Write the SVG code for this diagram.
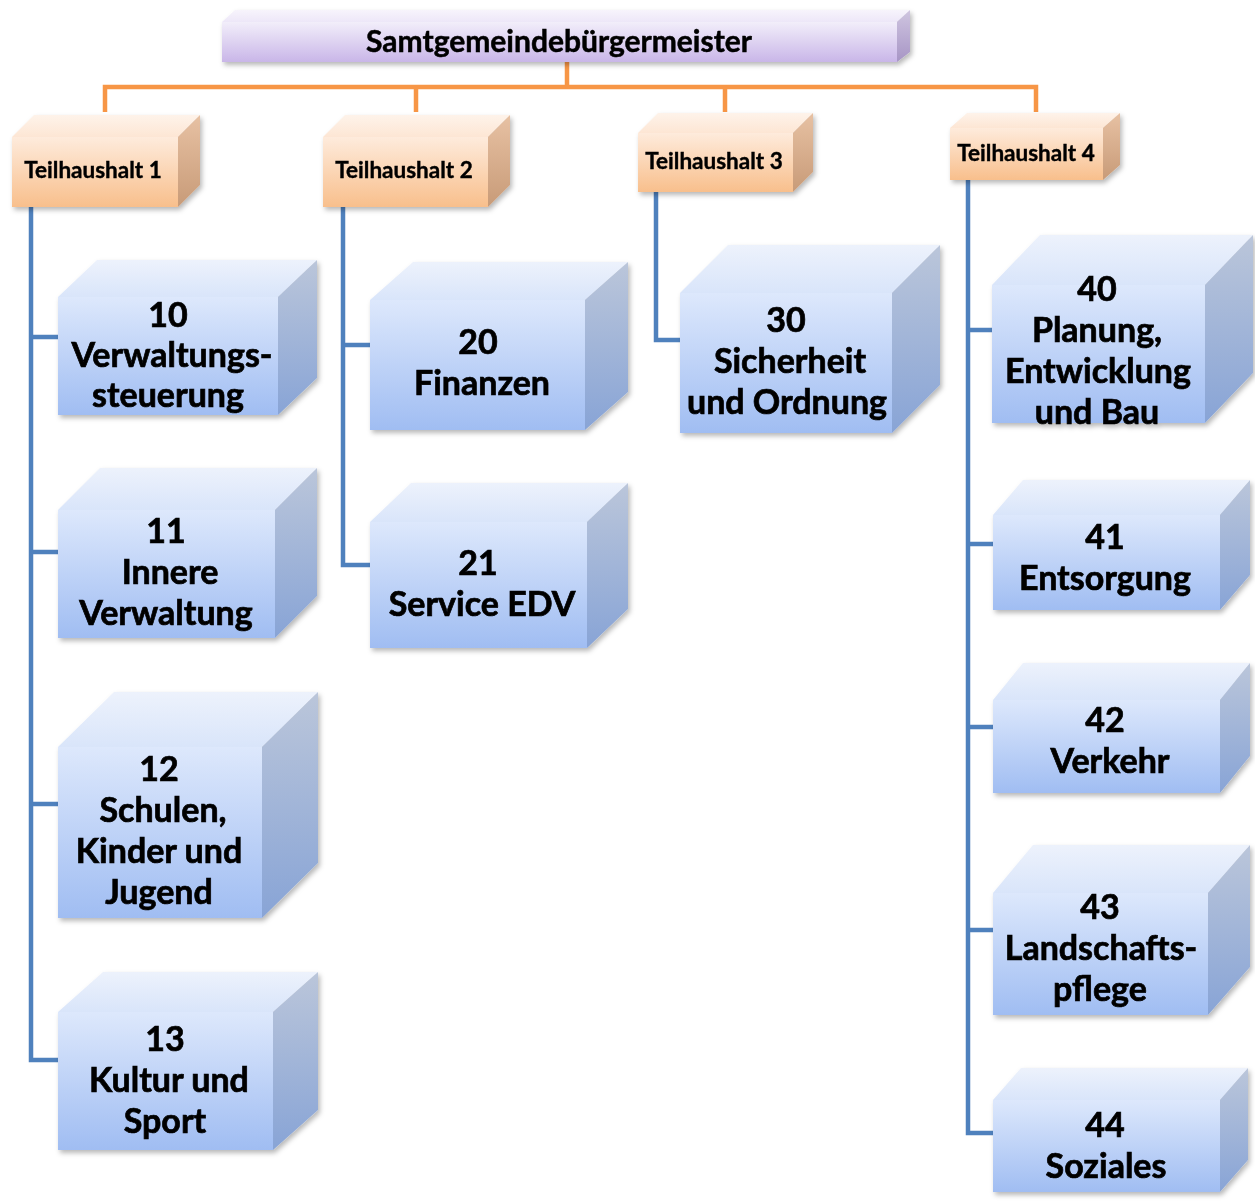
<svg xmlns="http://www.w3.org/2000/svg" width="1255" height="1203" viewBox="0 0 1255 1203">
<defs>
  <linearGradient id="bF" x1="0" y1="0" x2="0" y2="1"><stop offset="0" stop-color="#DDE8FC"/><stop offset="1" stop-color="#A0BDF2"/></linearGradient>
  <linearGradient id="bS" x1="0" y1="0" x2="0" y2="1"><stop offset="0" stop-color="#BBC6DA"/><stop offset="1" stop-color="#88A4D6"/></linearGradient>
  <linearGradient id="bT" x1="0" y1="0" x2="0" y2="1"><stop offset="0" stop-color="#EDF2FC"/><stop offset="1" stop-color="#D9E5FA"/></linearGradient>
  <linearGradient id="oF" x1="0" y1="0" x2="0" y2="1"><stop offset="0" stop-color="#FEEBDC"/><stop offset="1" stop-color="#F8BF8C"/></linearGradient>
  <linearGradient id="oS" x1="0" y1="0" x2="0" y2="1"><stop offset="0" stop-color="#E7C1A3"/><stop offset="1" stop-color="#C89B78"/></linearGradient>
  <linearGradient id="oT" x1="0" y1="0" x2="0" y2="1"><stop offset="0" stop-color="#FEF3EA"/><stop offset="1" stop-color="#FDE6D4"/></linearGradient>
  <linearGradient id="pF" x1="0" y1="0" x2="0" y2="1"><stop offset="0" stop-color="#F2EEFA"/><stop offset="1" stop-color="#C9B6E8"/></linearGradient>
  <linearGradient id="pS" x1="0" y1="0" x2="0" y2="1"><stop offset="0" stop-color="#CFC5E0"/><stop offset="1" stop-color="#A795C5"/></linearGradient>
  <linearGradient id="pT" x1="0" y1="0" x2="0" y2="1"><stop offset="0" stop-color="#F7F4FC"/><stop offset="1" stop-color="#EDE7F8"/></linearGradient>
  <filter id="sh" x="-10%" y="-10%" width="125%" height="130%"><feDropShadow dx="2" dy="3" stdDeviation="2.5" flood-color="#000" flood-opacity="0.28"/></filter>
</defs>
<style>
  .bf{fill:url(#bF)} .bs{fill:url(#bS)} .bt{fill:url(#bT)}
  .of{fill:url(#oF)} .os{fill:url(#oS)} .ot{fill:url(#oT)}
  .pf{fill:url(#pF)} .ps{fill:url(#pS)} .pt{fill:url(#pT)}
  .t{font-family:Lato,"Liberation Sans",sans-serif;font-weight:bold;fill:#000;stroke:#000;text-anchor:middle}
  .big{font-size:34px;stroke-width:0.7}
  .th{font-size:22.5px;stroke-width:0.4}
  .ti{font-size:30px;stroke-width:0.5}
  .oc{fill:none;stroke:#F79646;stroke-width:4.5}
  .bc{fill:none;stroke:#4F81BD;stroke-width:4.5}
</style>
<rect width="1255" height="1203" fill="#fff"/>

<g id="connectors">
  <path class="oc" d="M567,62 V87 M105,112 V87 H1036 V112 M416,87 V112 M725,87 V112"/>
  <path class="bc" d="M31,207 V1060 H58 M31,337 H58 M31,552 H58 M31,804 H58"/>
  <path class="bc" d="M343,207 V565 H370 M343,345 H370"/>
  <path class="bc" d="M656,192 V340 H680"/>
  <path class="bc" d="M968,180 V1133 H993 M968,330 H993 M968,544 H993 M968,727 H993 M968,930 H993"/>
</g>

<g id="root" filter="url(#sh)">
  <polygon class="pt" points="222,22 235,10 910,10 897,22"/>
  <polygon class="ps" points="897,22 910,10 910,52 897,62"/>
  <rect class="pf" x="222" y="22" width="675" height="40"/>
  <text class="t ti" x="559" y="52">Samtgemeindebürgermeister</text>
</g>

<g id="th1" filter="url(#sh)">
  <polygon class="ot" points="12,137 34,115 200,115 178,137"/>
  <polygon class="os" points="178,137 200,115 200,185 178,207"/>
  <rect class="of" x="12" y="137" width="166" height="70"/>
  <text class="t th" x="93" y="178">Teilhaushalt 1</text>
</g>
<g id="th2" filter="url(#sh)">
  <polygon class="ot" points="323,137 345,115 510,115 488,137"/>
  <polygon class="os" points="488,137 510,115 510,185 488,207"/>
  <rect class="of" x="323" y="137" width="165" height="70"/>
  <text class="t th" x="404" y="178">Teilhaushalt 2</text>
</g>
<g id="th3" filter="url(#sh)">
  <polygon class="ot" points="638,133 658,113 813,113 793,133"/>
  <polygon class="os" points="793,133 813,113 813,172 793,192"/>
  <rect class="of" x="638" y="133" width="155" height="59"/>
  <text class="t th" x="714" y="169">Teilhaushalt 3</text>
</g>
<g id="th4" filter="url(#sh)">
  <polygon class="ot" points="950,128 967,113 1120,113 1103,128"/>
  <polygon class="os" points="1103,128 1120,113 1120,165 1103,180"/>
  <rect class="of" x="950" y="128" width="153" height="52"/>
  <text class="t th" x="1026" y="161">Teilhaushalt 4</text>
</g>

<g id="b10" filter="url(#sh)">
  <polygon class="bt" points="58,297 97,260 317,260 278,297"/>
  <polygon class="bs" points="278,297 317,260 317,378 278,415"/>
  <rect class="bf" x="58" y="297" width="220" height="118"/>
  <text class="t big" x="168" y="327">10</text>
  <text class="t big" x="172" y="367">Verwaltungs-</text>
  <text class="t big" x="168" y="407">steuerung</text>
</g>
<g id="b11" filter="url(#sh)">
  <polygon class="bt" points="58,510 100,468 317,468 275,510"/>
  <polygon class="bs" points="275,510 317,468 317,596 275,638"/>
  <rect class="bf" x="58" y="510" width="217" height="128"/>
  <text class="t big" x="166" y="543">11</text>
  <text class="t big" x="170" y="584">Innere</text>
  <text class="t big" x="166" y="625">Verwaltung</text>
</g>
<g id="b12" filter="url(#sh)">
  <polygon class="bt" points="58,747 114,692 318,692 262,747"/>
  <polygon class="bs" points="262,747 318,692 318,863 262,918"/>
  <rect class="bf" x="58" y="747" width="204" height="171"/>
  <text class="t big" x="159" y="781">12</text>
  <text class="t big" x="163" y="822">Schulen,</text>
  <text class="t big" x="159" y="863">Kinder und</text>
  <text class="t big" x="159" y="904">Jugend</text>
</g>
<g id="b13" filter="url(#sh)">
  <polygon class="bt" points="58,1012 103,972 318,972 273,1012"/>
  <polygon class="bs" points="273,1012 318,972 318,1110 273,1150"/>
  <rect class="bf" x="58" y="1012" width="215" height="138"/>
  <text class="t big" x="165" y="1051">13</text>
  <text class="t big" x="169" y="1092">Kultur und</text>
  <text class="t big" x="165" y="1133">Sport</text>
</g>
<g id="b20" filter="url(#sh)">
  <polygon class="bt" points="370,300 413,262 628,262 585,300"/>
  <polygon class="bs" points="585,300 628,262 628,392 585,430"/>
  <rect class="bf" x="370" y="300" width="215" height="130"/>
  <text class="t big" x="478" y="354">20</text>
  <text class="t big" x="482" y="395">Finanzen</text>
</g>
<g id="b21" filter="url(#sh)">
  <polygon class="bt" points="370,522 411,483 628,483 587,522"/>
  <polygon class="bs" points="587,522 628,483 628,609 587,648"/>
  <rect class="bf" x="370" y="522" width="217" height="126"/>
  <text class="t big" x="478" y="575">21</text>
  <text class="t big" x="482" y="616">Service EDV</text>
</g>
<g id="b30" filter="url(#sh)">
  <polygon class="bt" points="680,293 728,245 940,245 892,293"/>
  <polygon class="bs" points="892,293 940,245 940,385 892,433"/>
  <rect class="bf" x="680" y="293" width="212" height="140"/>
  <text class="t big" x="786" y="332">30</text>
  <text class="t big" x="790" y="373">Sicherheit</text>
  <text class="t big" x="787" y="414">und Ordnung</text>
</g>
<g id="b40" filter="url(#sh)">
  <polygon class="bt" points="992,285 1040,235 1253,235 1205,285"/>
  <polygon class="bs" points="1205,285 1253,235 1253,373 1205,423"/>
  <rect class="bf" x="992" y="285" width="213" height="138"/>
  <text class="t big" x="1097" y="301">40</text>
  <text class="t big" x="1097" y="342">Planung,</text>
  <text class="t big" x="1098" y="383">Entwicklung</text>
  <text class="t big" x="1097" y="424">und Bau</text>
</g>
<g id="b41" filter="url(#sh)">
  <polygon class="bt" points="993,515 1023,480 1250,480 1220,515"/>
  <polygon class="bs" points="1220,515 1250,480 1250,575 1220,610"/>
  <rect class="bf" x="993" y="515" width="227" height="95"/>
  <text class="t big" x="1105" y="549">41</text>
  <text class="t big" x="1105" y="590">Entsorgung</text>
</g>
<g id="b42" filter="url(#sh)">
  <polygon class="bt" points="993,700 1023,663 1250,663 1220,700"/>
  <polygon class="bs" points="1220,700 1250,663 1250,756 1220,793"/>
  <rect class="bf" x="993" y="700" width="227" height="93"/>
  <text class="t big" x="1105" y="732">42</text>
  <text class="t big" x="1110" y="773">Verkehr</text>
</g>
<g id="b43" filter="url(#sh)">
  <polygon class="bt" points="993,893 1033,845 1250,845 1208,893"/>
  <polygon class="bs" points="1208,893 1250,845 1250,967 1208,1015"/>
  <rect class="bf" x="993" y="893" width="215" height="122"/>
  <text class="t big" x="1100" y="919">43</text>
  <text class="t big" x="1101" y="960">Landschafts-</text>
  <text class="t big" x="1100" y="1001">pflege</text>
</g>
<g id="b44" filter="url(#sh)">
  <polygon class="bt" points="993,1100 1021,1068 1248,1068 1220,1100"/>
  <polygon class="bs" points="1220,1100 1248,1068 1248,1160 1220,1192"/>
  <rect class="bf" x="993" y="1100" width="227" height="92"/>
  <text class="t big" x="1105" y="1137">44</text>
  <text class="t big" x="1106" y="1178">Soziales</text>
</g>
</svg>
